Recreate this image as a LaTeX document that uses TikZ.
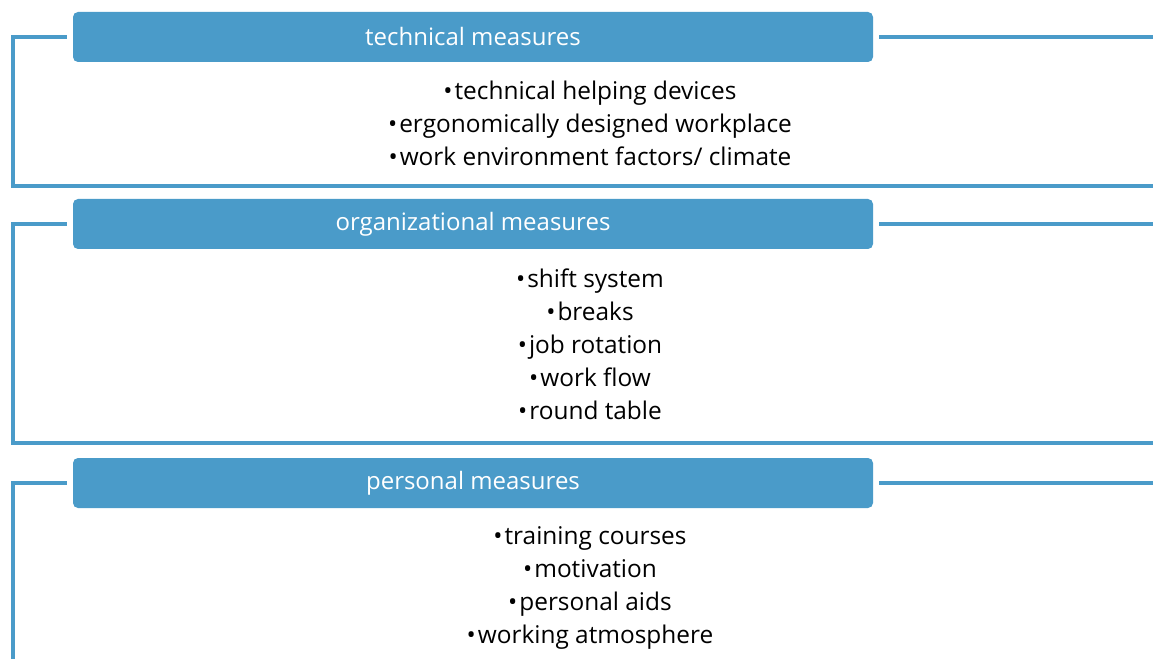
\documentclass[tikz,border=0pt]{standalone}
\usepackage{fontspec}
\setmainfont{Open Sans}
\definecolor{barblue}{RGB}{74,155,201}
\newcommand{\itembul}{\textbullet\kern1.5pt}
\begin{document}
\begin{tikzpicture}[x=0.75pt,y=-0.75pt,
  header/.style={fill=barblue, rounded corners=3.75pt, minimum width=600pt,
    minimum height=37.5pt, inner sep=0pt, text=white,
    font=\fontsize{18}{20}\selectfont},
  bracket/.style={draw=barblue, line width=3pt},
  items/.style={align=center, inner sep=0pt,
    font=\fontsize{18.3}{24.75}\selectfont}]
\useasboundingbox (0,0) rectangle (1153,659);

% section headers
\node[header] (h1) at (473,37)  {technical measures};
\node[header] (h2) at (473,224) {organizational measures};
\node[header] (h3) at (473,483) {personal measures};

% bullet lists
\node[items] (l1) at (590,123) {\itembul technical helping devices\\
  \itembul ergonomically designed workplace\\
  \itembul work environment factors/ climate};
\node[items] (l2) at (590,344) {\itembul shift system\\
  \itembul breaks\\
  \itembul job rotation\\
  \itembul work flow\\
  \itembul round table};
\node[items] (l3) at (590,588) {\itembul training courses\\
  \itembul motivation\\
  \itembul personal aids\\
  \itembul working atmosphere};

% brackets framing each section
\draw[bracket] ([xshift=-4.5pt]h1.west) -- (13,37) -- (13,186) -- (1153,186);
\draw[bracket] ([xshift=4.5pt]h1.east) -- (1153,37);
\draw[bracket] ([xshift=-4.5pt]h2.west) -- (13,224) -- (13,443) -- (1153,443);
\draw[bracket] ([xshift=4.5pt]h2.east) -- (1153,224);
\draw[bracket] ([xshift=-4.5pt]h3.west) -- (13,483) -- (13,659);
\draw[bracket] ([xshift=4.5pt]h3.east) -- (1153,483);
\end{tikzpicture}
\end{document}
